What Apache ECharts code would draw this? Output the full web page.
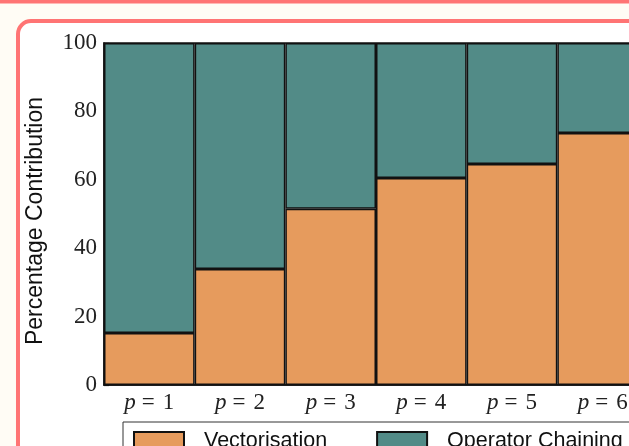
<!DOCTYPE html>
<html>
<head>
<meta charset="utf-8">
<script src="https://cdn.jsdelivr.net/npm/echarts@6/dist/echarts.min.js"></script>
<style>
html,body{margin:0;padding:0;background:#FFFCF5;}
#chart{width:629px;height:446px;}
</style>
</head>
<body>
<div id="chart"></div>
<script>
const categories = ['1', '2', '3', '4', '5', '6'];
const vectorisation = [15.2, 33.9, 51.5, 60.5, 64.6, 73.7];
const operatorChaining = [84.8, 66.1, 48.5, 39.5, 35.4, 26.3];
const yTicks = [0, 20, 40, 60, 80, 100];

const chart = echarts.init(document.getElementById('chart'), null, {renderer: 'canvas'});
const serif = '"Liberation Serif", "DejaVu Serif", serif';
const sans = '"Liberation Sans", "DejaVu Sans", sans-serif';

chart.setOption({
  backgroundColor: '#FFFCF5',
  animation: false,
  graphic: [
    {type: 'rect', z: -10, shape: {x: 0, y: 0, width: 629, height: 3.5}, style: {fill: '#FF7474'}},
    {type: 'rect', z: -10, shape: {x: 18, y: 21, width: 700, height: 500, r: 13},
     style: {fill: '#FFFFFF', stroke: '#FF7474', lineWidth: 4}}
  ],
  grid: {
    left: 104, top: 43, width: 544, height: 342,
    outerBoundsMode: 'none',
    containLabel: false,
    show: true, borderColor: '#111', borderWidth: 1.5, backgroundColor: 'transparent'
  },
  legend: {
    left: 123, top: 422, width: 700,
    padding: [8, 10, 8, 10],
    borderColor: '#333', borderWidth: 1,
    backgroundColor: '#fff',
    itemWidth: 50, itemHeight: 18,
    itemGap: 49,
    icon: 'rect',
    textStyle: {fontFamily: sans, fontSize: 21.5, color: '#111', padding: [0, 0, 0, 15]},
    data: ['Vectorisation', 'Operator Chaining']
  },
  xAxis: {
    type: 'category',
    data: categories,
    axisLine: {show: true, lineStyle: {color: '#111', width: 1.5}},
    axisTick: {show: true, alignWithLabel: true, inside: true, length: 5, lineStyle: {color: '#111', width: 1.2}},
    axisLabel: {
      interval: 0,
      margin: 6,
      formatter: v => '{i|p}{e|=}{n|' + v + '}',
      rich: {
        i: {fontFamily: serif, fontStyle: 'italic', fontSize: 23, color: '#222'},
        e: {fontFamily: serif, fontSize: 23, color: '#222', padding: [0, 8, 0, 6]},
        n: {fontFamily: serif, fontSize: 23, color: '#222'}
      }
    },
    splitLine: {show: false}
  },
  yAxis: {
    type: 'value',
    min: 0, max: 100, interval: 20,
    name: 'Percentage Contribution',
    nameLocation: 'middle',
    nameGap: 57,
    nameRotate: 90,
    nameTextStyle: {fontFamily: sans, fontSize: 23, color: '#111', padding: [0, 14, 0, 0]},
    axisLine: {show: true, lineStyle: {color: '#111', width: 1.5}},
    axisTick: {show: true, inside: true, length: 5, lineStyle: {color: '#111', width: 1.2}},
    axisLabel: {
      margin: 7, fontFamily: serif, fontSize: 23, color: '#222',
      formatter: v => (yTicks.indexOf(v) >= 0 ? String(v) : '')
    },
    splitLine: {show: false}
  },
  series: [
    {
      name: 'Vectorisation', type: 'bar', stack: 'total', data: vectorisation,
      barCategoryGap: '0%',
      itemStyle: {color: '#E69B5D', borderColor: '#111', borderWidth: 1.5}
    },
    {
      name: 'Operator Chaining', type: 'bar', stack: 'total', data: operatorChaining,
      barCategoryGap: '0%',
      itemStyle: {color: '#528B87', borderColor: '#111', borderWidth: 1.5}
    }
  ]
});
</script>
</body>
</html>
